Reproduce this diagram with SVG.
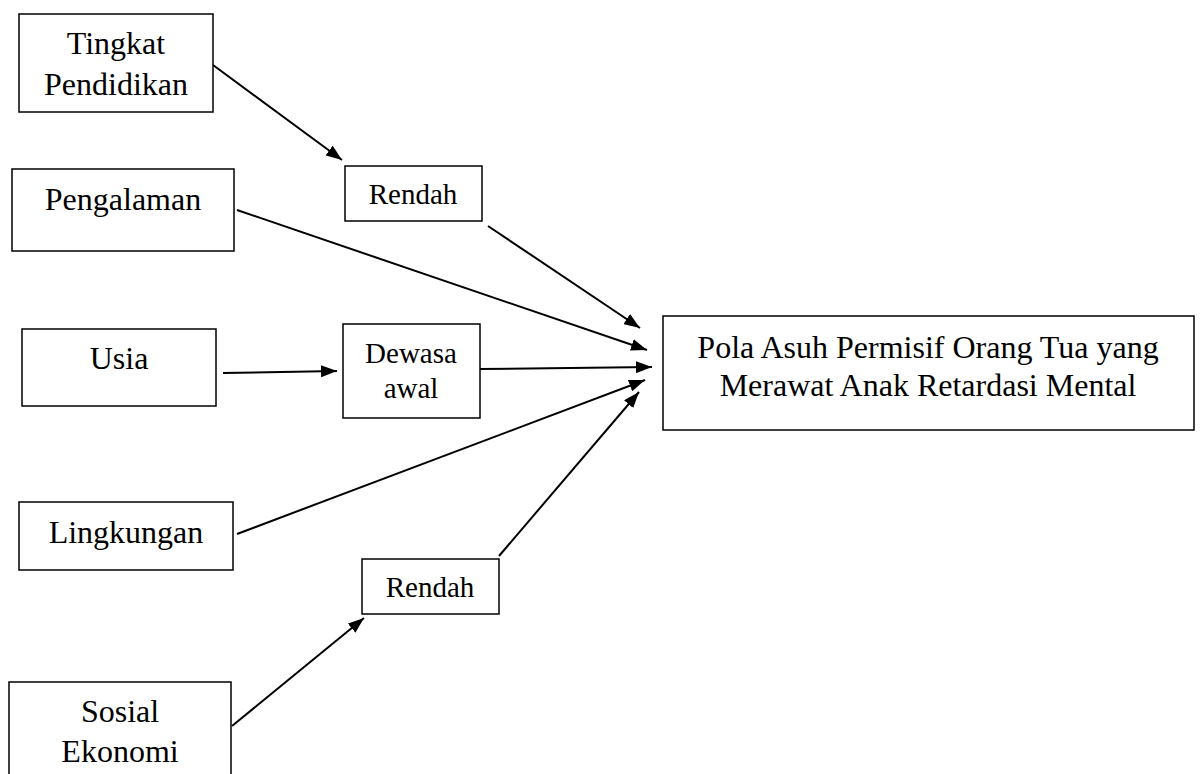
<svg xmlns="http://www.w3.org/2000/svg" width="1200" height="774" viewBox="0 0 1200 774">
<style>
.box{fill:#fff;stroke:#000;stroke-width:1.5}
.t{font-family:"Liberation Serif","Times New Roman",serif;font-size:32px;fill:#000;text-anchor:middle}
.s{font-size:29px}
.c{stroke:#000;stroke-width:2;fill:none;marker-end:url(#ah)}
</style>
<defs>
<marker id="ah" viewBox="0 0 16 12" refX="16" refY="6" markerWidth="16" markerHeight="12" markerUnits="userSpaceOnUse" orient="auto">
<path d="M0,0 L16,6 L0,12 z" fill="#000"/>
</marker>
</defs>
<rect width="1200" height="774" fill="#fff"/>
<g id="connectors">
<line class="c" x1="213" y1="65" x2="342" y2="160"/>
<line class="c" x1="237" y1="210" x2="647" y2="350"/>
<line class="c" x1="223" y1="373" x2="337" y2="371"/>
<line class="c" x1="480" y1="369" x2="652" y2="367"/>
<line class="c" x1="237" y1="534" x2="645" y2="380"/>
<line class="c" x1="488" y1="226" x2="640" y2="328"/>
<line class="c" x1="232" y1="726" x2="364" y2="618"/>
<line class="c" x1="499" y1="556" x2="639" y2="392"/>
</g>
<g id="tingkat">
<rect class="box" x="19" y="14" width="194" height="98"/>
<text class="t" x="116" y="54">Tingkat</text>
<text class="t" x="116" y="95">Pendidikan</text>
</g>
<g id="pengalaman">
<rect class="box" x="12" y="169" width="222" height="82"/>
<text class="t" x="123" y="210">Pengalaman</text>
</g>
<g id="rendah1">
<rect class="box" x="345" y="166" width="137" height="55"/>
<text class="t s" x="413" y="204">Rendah</text>
</g>
<g id="usia">
<rect class="box" x="22" y="329" width="194" height="77"/>
<text class="t" x="119" y="369">Usia</text>
</g>
<g id="dewasa">
<rect class="box" x="343" y="324" width="137" height="94"/>
<text class="t s" x="411" y="363">Dewasa</text>
<text class="t s" x="411" y="398">awal</text>
</g>
<g id="lingkungan">
<rect class="box" x="19" y="502" width="214" height="68"/>
<text class="t" x="126" y="543">Lingkungan</text>
</g>
<g id="rendah2">
<rect class="box" x="362" y="559" width="137" height="55"/>
<text class="t s" x="430" y="597">Rendah</text>
</g>
<g id="sosial">
<rect class="box" x="9" y="682" width="222" height="100"/>
<text class="t" x="120" y="722">Sosial</text>
<text class="t" x="120" y="762">Ekonomi</text>
</g>
<g id="pola">
<rect class="box" x="663" y="316" width="531" height="114"/>
<text class="t" x="928" y="358">Pola Asuh Permisif Orang Tua yang</text>
<text class="t" x="928" y="396">Merawat Anak Retardasi Mental</text>
</g>
</svg>
